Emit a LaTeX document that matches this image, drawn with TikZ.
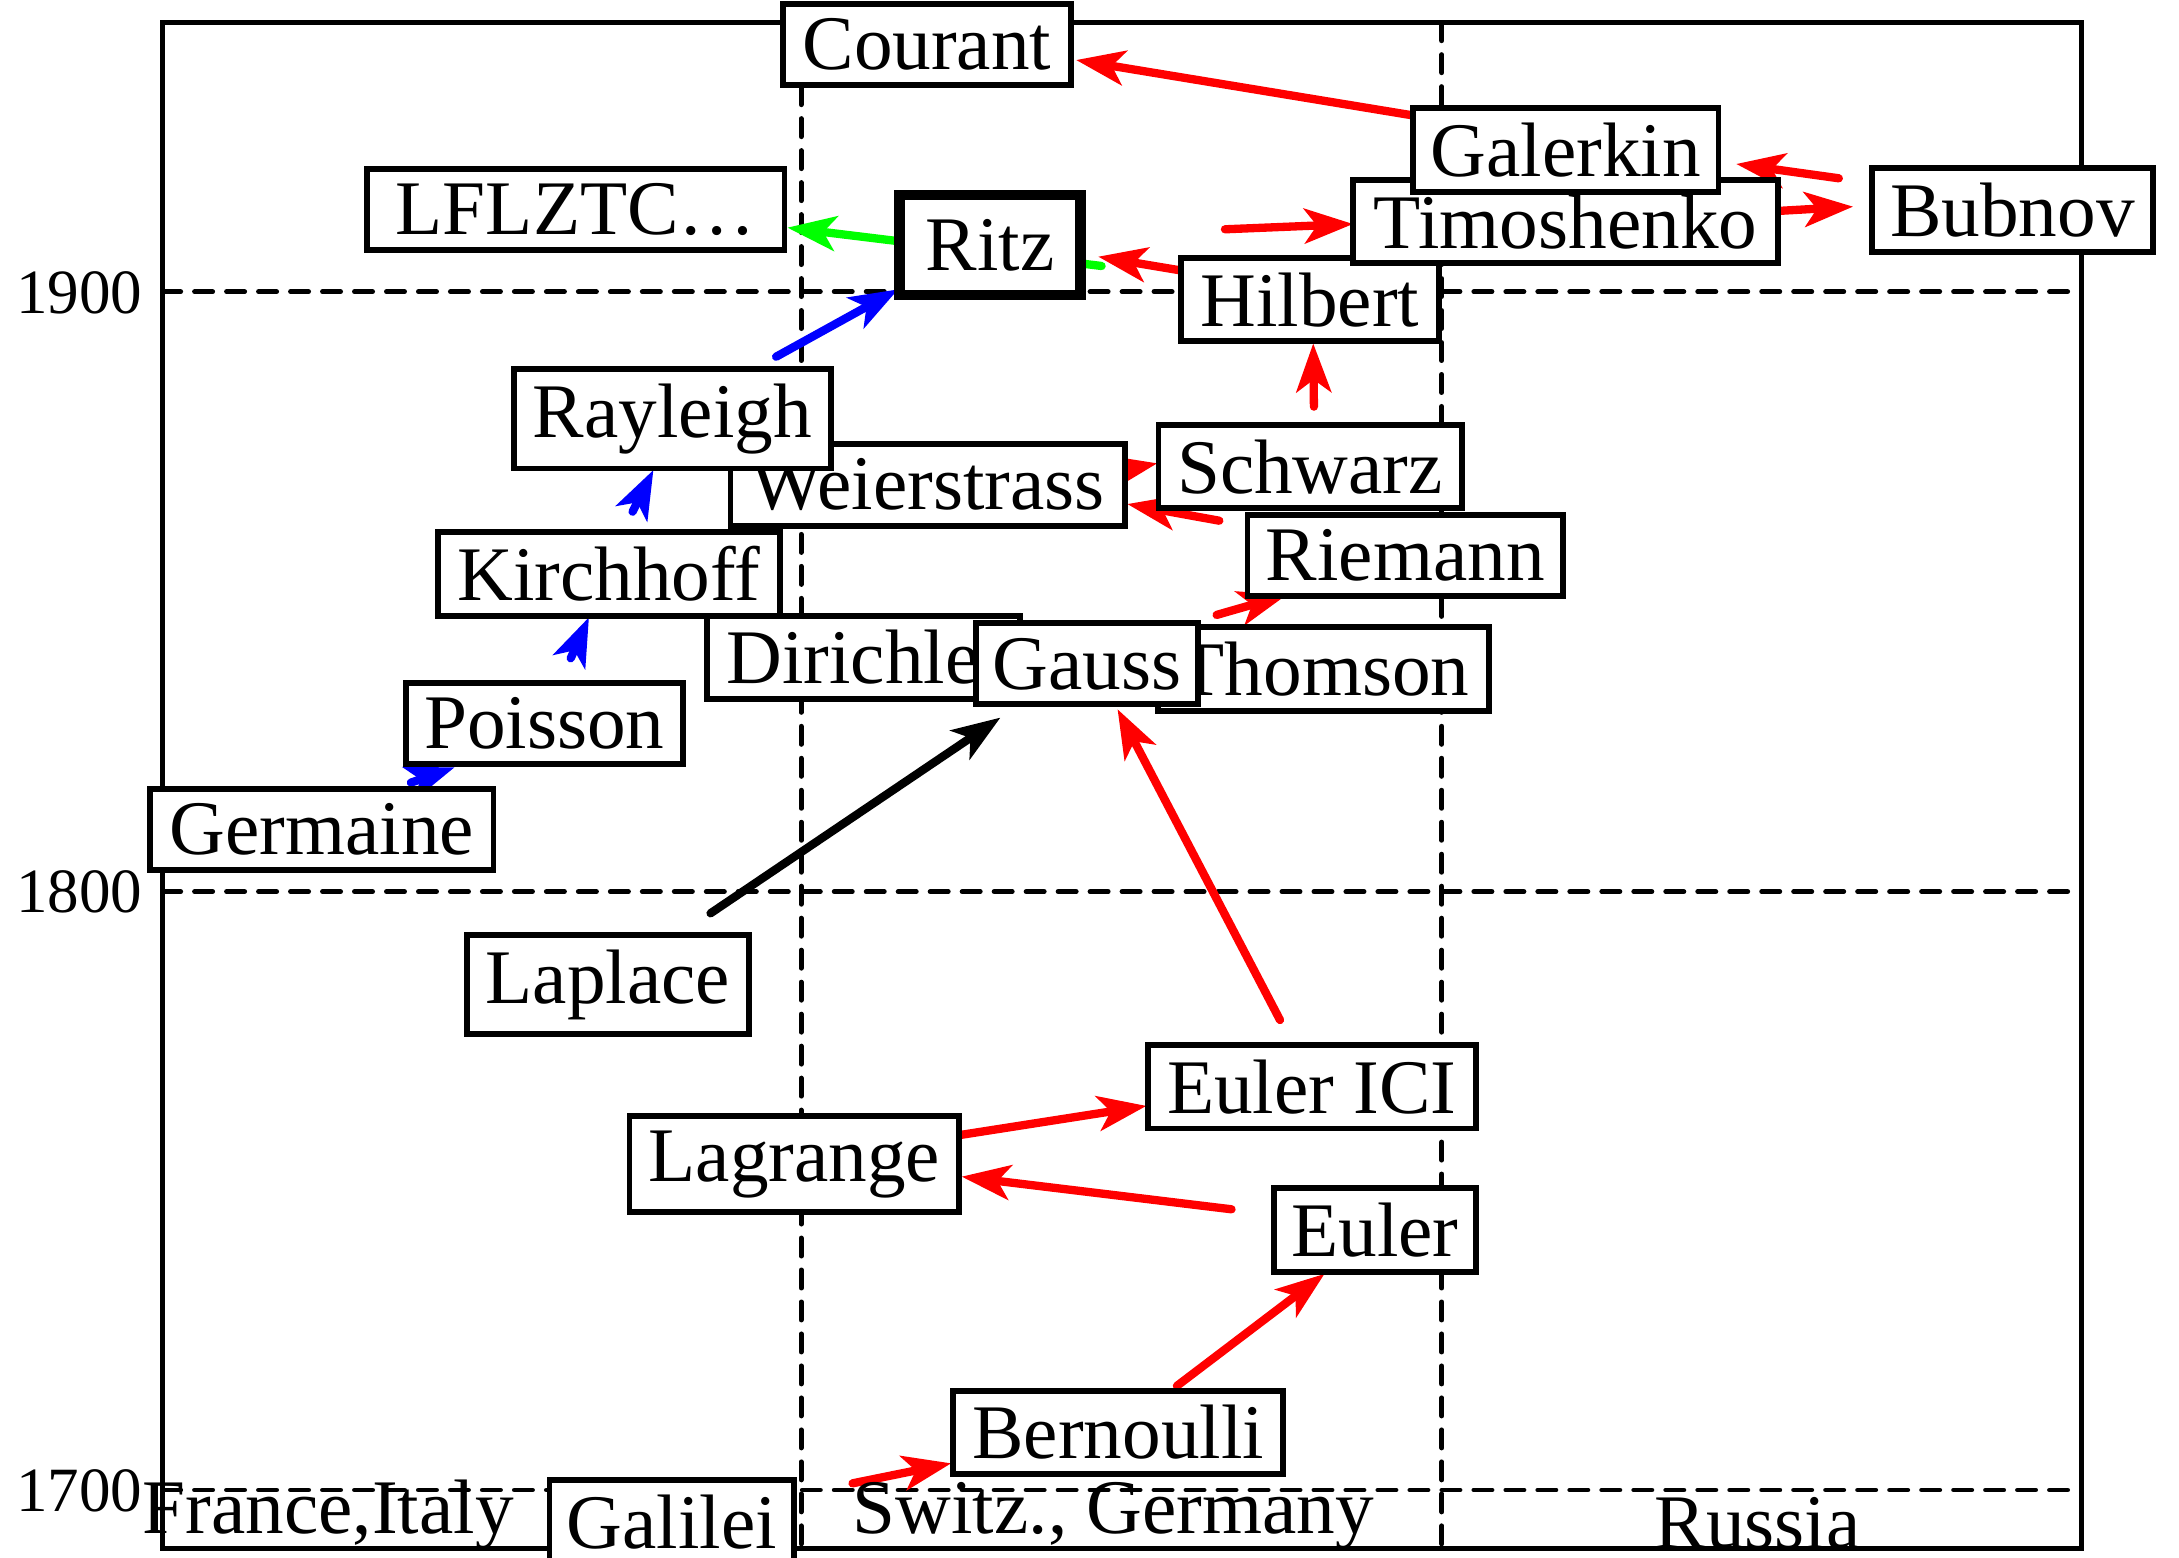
\documentclass[tikz,border=0pt]{standalone}
\usepackage{fontspec}
\setmainfont{Liberation Serif}
\usetikzlibrary{arrows.meta}
\pgfdeclarelayer{bg}
\pgfsetlayers{bg,main}
\begin{document}
\begin{tikzpicture}[x=0.01cm,y=-0.01cm,
  person/.style={draw, line width=1.2pt, fill=white, inner xsep=0.08cm, inner ysep=0.105cm,
    font=\fontsize{15.8}{19}\selectfont},
  conn/.style={line width=1.7pt, line cap=round, -{Stealth[length=0.35cm,width=0.25cm,inset=0.09cm]}},
  redc/.style={conn, draw=red, fill=red},
  bluec/.style={conn, draw=blue, fill=blue},
  greenc/.style={conn, draw=green, fill=green},
  blackc/.style={conn, draw=black, fill=black},
  gridline/.style={line width=1pt, dash pattern=on 0.13cm off 0.1cm, line cap=round},
  plotframe/.style={line width=1pt},
  ticklab/.style={anchor=east, inner sep=0pt, font=\fontsize{12.9}{15}\selectfont},
  region/.style={anchor=base west, inner sep=0pt, font=\fontsize{15.8}{19}\selectfont}]
\useasboundingbox (0,0) rectangle (1568,1121);

% ---- persons ----
\node[person, minimum width=2.07cm] (Courant) at (667,32) {Courant};
\node[person, minimum width=3.00cm] (LFLZTC) at (414.4,150.8) {LFLZTC…};
\node[person, minimum width=1.85cm] (Hilbert) at (942.7,215.6) {Hilbert};
\node[person, minimum width=3.06cm] (Timoshenko) at (1126.6,159.5) {Timoshenko};
\node[person, minimum width=2.20cm] (Galerkin) at (1126.6,108) {Galerkin};
\node[person, minimum width=2.02cm] (Bubnov) at (1448.2,151.1) {Bubnov};
\node[person, line width=2.1pt, minimum width=1.30cm, minimum height=0.72cm] (Ritz) at (712.4,176.5) {Ritz};
\node[person, minimum width=2.84cm] (Weierstrass) at (667.7,349) {Weierstrass};
\node[person, minimum width=2.28cm] (Rayleigh) at (483.8,301.4) {Rayleigh};
\node[person, minimum width=2.18cm] (Schwarz) at (942.7,335.8) {Schwarz};
\node[person, minimum width=2.27cm] (Riemann) at (1011.3,399.7) {Riemann};
\node[person, minimum width=2.46cm] (Kirchhoff) at (438.3,413) {Kirchhoff};
\node[person, minimum width=2.25cm] (Dirichlet) at (621.5,473.1) {Dirichlet};
\node[person, minimum width=2.38cm] (Thomson) at (952.5,481.3) {Thomson};
\node[person, minimum width=1.60cm] (Gauss) at (782.3,477.7) {Gauss};
\node[person, minimum width=1.99cm] (Poisson) at (391.7,520.5) {Poisson};
\node[person, minimum width=2.47cm] (Germaine) at (231.5,597) {Germaine};
\node[person, minimum width=2.03cm] (Laplace) at (437.4,708.4) {Laplace};
\node[person, minimum width=2.355cm] (EulerICI) at (944,782) {Euler ICI};
\node[person, minimum width=2.37cm] (Lagrange) at (571.6,837.7) {Lagrange};
\node[person, minimum width=1.45cm] (Euler) at (989.4,885.1) {Euler};
\node[person, minimum width=2.375cm] (Bernoulli) at (804.6,1030.7) {Bernoulli};
\node[person, minimum width=1.76cm] (Galilei) at (483.5,1095) {Galilei};

% ---- axis labels ----
\node[ticklab] (t1900) at (103,211) {1900};
\node[ticklab] (t1800) at (103,642) {1800};
\node[ticklab] (t1700) at (103,1073) {1700};
\node[region] (france) at (102,1103.8) {France,Italy};
\node[region] (switz) at (613,1103.8) {Switz., Germany};
\node[region] (russia) at (1190,1114) {Russia};

\begin{pgfonlayer}{bg}
% frame and grid
\draw[plotframe] (117,16.3) rectangle (1497.6,1114);
\draw[gridline] (117,209.9) -- (1497.6,209.9);
\draw[gridline] (117,641.6) -- (1497.6,641.6);
\draw[gridline] (117,1072.2) -- (1497.6,1072.2);
\draw[gridline] (576.5,16.3) -- (576.5,1114);
\draw[gridline] (1037.5,16.3) -- (1037.5,1114);

% connectors
\draw[redc] ([shift={(-106.6,-24.4)}]Galerkin.center) -- ([shift={(107.4,11.2)}]Courant.center);
\draw[redc] ([shift={(-125,-22.8)}]Bubnov.center) -- ([shift={(122.8,10)}]Galerkin.center);
\draw[redc] ([shift={(149.4,-7.5)}]Timoshenko.center) -- ([shift={(-114.7,-2.4)}]Bubnov.center);
\draw[redc] ([shift={(-61.2,-50.6)}]Hilbert.center) -- ([shift={(-152.9,1.7)}]Timoshenko.center);
\draw[greenc] ([shift={(80.3,14.9)}]Ritz.center) -- ([shift={(152.2,13)}]LFLZTC.center);
\draw[redc] ([shift={(-90.7,-20.6)}]Hilbert.center) -- ([shift={(77.9,8.2)}]Ritz.center);
\draw[bluec] ([shift={(74.7,-44.7)}]Rayleigh.center) -- ([shift={(-66.1,31.7)}]Ritz.center);
\draw[bluec] ([shift={(16.9,-44.8)}]Kirchhoff.center) -- ([shift={(-13.6,36.8)}]Rayleigh.center);
\draw[bluec] ([shift={(19,-46.8)}]Poisson.center) -- ([shift={(-14.5,31.2)}]Kirchhoff.center);
\draw[bluec] ([shift={(64.2,-33.8)}]Germaine.center) -- ([shift={(-64.6,31.7)}]Poisson.center);
\draw[redc] ([shift={(2.8,-43.2)}]Schwarz.center) -- ([shift={(2.3,31.5)}]Hilbert.center);
\draw[redc] ([shift={(52.3,6.4)}]Weierstrass.center) -- ([shift={(-109.9,-2.4)}]Schwarz.center);
\draw[redc] ([shift={(-133.9,-25)}]Riemann.center) -- ([shift={(143.5,13.7)}]Weierstrass.center);
\draw[redc] ([shift={(-77,-38.8)}]Thomson.center) -- ([shift={(-85.3,28.3)}]Riemann.center);
\draw[blackc] ([shift={(73.9,-51.2)}]Laplace.center) -- ([shift={(-62.4,38.7)}]Gauss.center);
\draw[redc] ([shift={(-22.9,-48)}]EulerICI.center) -- ([shift={(21.9,32.7)}]Gauss.center);
\draw[redc] ([shift={(116.4,-20.5)}]Lagrange.center) -- ([shift={(-119,13.8)}]EulerICI.center);
\draw[redc] ([shift={(-103.2,-14.9)}]Euler.center) -- ([shift={(120.4,9)}]Lagrange.center);
\draw[redc] ([shift={(42.3,-33.4)}]Bernoulli.center) -- ([shift={(-36.3,31.6)}]Euler.center);
\draw[redc] ([shift={(130,-27.6)}]Galilei.center) -- ([shift={(-120.1,22.3)}]Bernoulli.center);
\end{pgfonlayer}
\end{tikzpicture}
\end{document}
